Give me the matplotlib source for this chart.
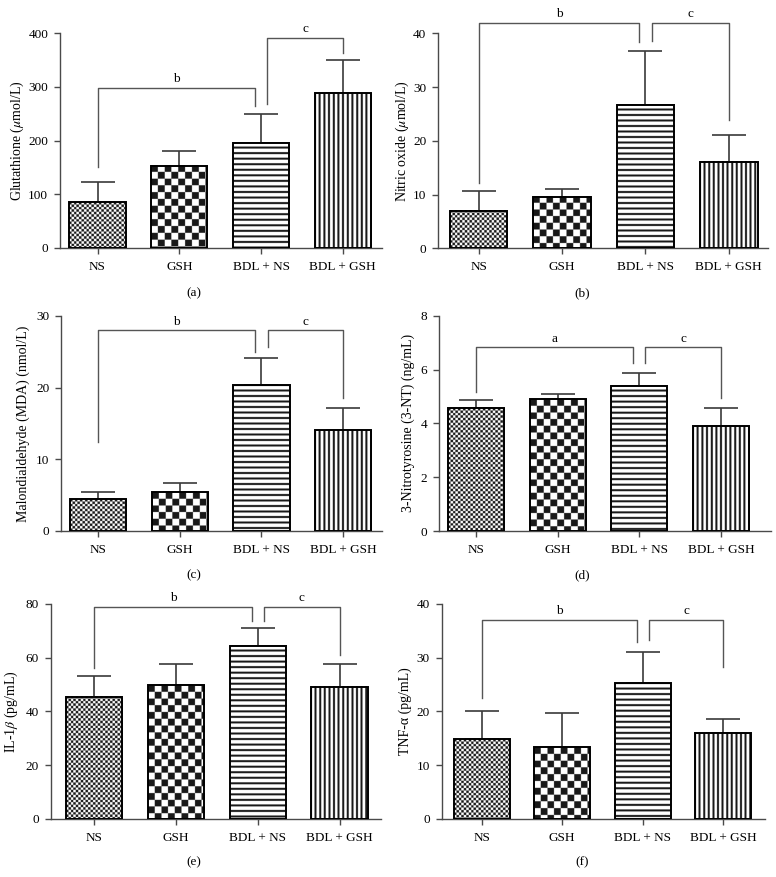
import numpy as np
import matplotlib
matplotlib.use("Agg")
import matplotlib.pyplot as plt

plt.rcParams['font.family'] = ['Liberation Serif', 'DejaVu Serif']
plt.rcParams['mathtext.fontset'] = 'stix'

# ---------------- data ----------------
groups = ['NS', 'GSH', 'BDL + NS', 'BDL + GSH']

gsh_mean = [85, 153, 196, 288]
gsh_err = [38, 27, 53, 62]
no_mean = [6.9, 9.6, 26.7, 16.1]
no_err = [3.8, 1.4, 10.1, 5.0]
mda_mean = [4.47, 5.4, 20.36, 14.07]
mda_err = [0.98, 1.2, 3.74, 3.03]
nt_mean = [4.56, 4.89, 5.39, 3.90]
nt_err = [0.31, 0.21, 0.48, 0.66]
il_mean = [45.5, 49.7, 64.5, 49.2]
il_err = [7.8, 7.8, 6.7, 8.3]
tnf_mean = [14.9, 13.3, 25.2, 15.9]
tnf_err = [5.1, 6.4, 5.85, 2.7]

ylabels = ['Glutathione ($\\mu$mol/L)', 'Nitric oxide ($\\mu$mol/L)',
           'Malondialdehyde (MDA) (nmol/L)', '3-Nitrotyrosine (3-NT) (ng/mL)',
           'IL-1$\\beta$ (pg/mL)', 'TNF-α (pg/mL)']
panel_tags = ['(a)', '(b)', '(c)', '(d)', '(e)', '(f)']
yticks = [[0, 100, 200, 300, 400], [0, 10, 20, 30, 40], [0, 10, 20, 30],
          [0, 2, 4, 6, 8], [0, 20, 40, 60, 80], [0, 10, 20, 30, 40]]

# significance brackets: (label, left-leg bottom, top, right-leg bottom)
brk_b = [('b', 151, 299, 264), ('b', 12.2, 42, 38.3), ('b', 12.4, 28.0, 24.9),
         ('a', 5.18, 6.82, 6.25), ('b', 56.2, 78.8, 73.8), ('b', 22.4, 37.0, 33.0)]
brk_c = [('c', 269, 392, 364), ('c', 38.6, 42, 23.9), ('c', 25.6, 28.0, 18.5),
         ('c', 6.25, 6.82, 4.93), ('c', 73.8, 78.8, 61.0), ('c', 33.2, 37.0, 28.2)]

means = [gsh_mean, no_mean, mda_mean, nt_mean, il_mean, tnf_mean]
errs = [gsh_err, no_err, mda_err, nt_err, il_err, tnf_err]

# ---------------- layout (pixels) ----------------
W, H = 776, 877
fig = plt.figure(figsize=(W / 100, H / 100), dpi=100)

boxes = [(60, 382, 33.3, 248), (438.3, 768, 33.3, 248.3),
         (61, 382, 316, 530.7), (439.3, 771, 315.7, 531),
         (50.7, 381, 604, 818.7), (441.7, 765, 604, 818.7)]
xlims = [(-0.459, 3.48), (-0.484, 3.47), (-0.453, 3.476),
         (-0.455, 3.615), (-0.529, 3.504), (-0.4975, 3.519)]
tag_pos = [(194, 293), (582, 293), (194, 575), (582, 575), (194, 862), (582, 862)]
label_pads = [1.5, 1.5, 4, 4, 4, 3]

DARK = 0.1
AX_COLOR = '#4a4a4a'
OS = 4  # oversampling of the fill textures


def texture(kind, w, h):
    yy, xx = np.mgrid[0:h * OS, 0:w * OS].astype(float)
    yy = (yy + 0.5) / OS
    xx = (xx + 0.5) / OS
    if kind == 0:   # fine checker
        c = 2.45
        m = ((np.floor(xx / c) + np.floor(yy / c)) % 2) == 0
    elif kind == 1:  # coarse checker
        c = 6.7
        m = ((np.floor(xx / c) + np.floor(yy / c)) % 2) == 0
    elif kind == 2:  # horizontal stripes
        m = ((yy + 1.0) % 5.5) < 2.1
    else:            # vertical stripes
        m = ((xx + 1.0) % 4.6) < 2.0
    return np.where(m, DARK, 1.0)


for k in range(6):
    l, r, t, b = boxes[k]
    ax = fig.add_axes([l / W, 1 - b / H, (r - l) / W, (b - t) / H])
    x = np.arange(len(groups))
    ymax = yticks[k][-1]
    ax.set_xlim(*xlims[k])
    ax.set_ylim(0, ymax)

    bars = ax.bar(x, means[k], width=0.69, facecolor='none', edgecolor='black',
                  linewidth=1.4, zorder=3)
    for i, p in enumerate(bars):
        bb = p.get_window_extent()
        wpx = max(int(round(bb.width)), 1)
        hpx = max(int(round(bb.height)), 1)
        img = texture(i, wpx, hpx)
        ax.imshow(img, cmap='gray', vmin=0, vmax=1, interpolation='antialiased',
                  extent=(p.get_x(), p.get_x() + p.get_width(), 0, p.get_height()),
                  aspect='auto', zorder=2)
    ax.set_xlim(*xlims[k])
    ax.set_ylim(0, ymax)

    ax.errorbar(x, means[k], yerr=[np.zeros(4), errs[k]], fmt='none',
                ecolor='#3a3a3a', elinewidth=1.2, capsize=12, capthick=1.2, zorder=1)

    # brackets
    d = 0.075
    lb, y1, ytop, y2 = brk_b[k]
    ax.plot([0, 0, 2 - d, 2 - d], [y1, ytop, ytop, y2], color='#555555', lw=1.0,
            clip_on=False, zorder=4)
    ax.annotate(lb, xy=(1 - d / 2, ytop), xytext=(0, 2), textcoords='offset points',
                ha='center', va='bottom', fontsize=9.5, annotation_clip=False)
    lc, y1, ytop, y2 = brk_c[k]
    ax.plot([2 + d, 2 + d, 3, 3], [y1, ytop, ytop, y2], color='#555555', lw=1.0,
            clip_on=False, zorder=4)
    ax.annotate(lc, xy=(2.5 + d / 2, ytop), xytext=(0, 2), textcoords='offset points',
                ha='center', va='bottom', fontsize=9.5, annotation_clip=False)

    for s in ['top', 'right']:
        ax.spines[s].set_visible(False)
    for s in ['left', 'bottom']:
        ax.spines[s].set_color(AX_COLOR)
        ax.spines[s].set_linewidth(1.0)
    ax.set_xticks(x)
    ax.set_xticklabels(groups, fontsize=9.5)
    ax.set_yticks(yticks[k])
    ax.tick_params(axis='both', color=AX_COLOR, length=4.5, width=1.0,
                   labelsize=9.5)
    ax.tick_params(axis='x', pad=5)
    ax.tick_params(axis='y', pad=4)
    ax.set_ylabel(ylabels[k], fontsize=10, labelpad=label_pads[k])
    fig.text(tag_pos[k][0] / W, 1 - tag_pos[k][1] / H, panel_tags[k],
             ha='center', va='center', fontsize=9.5)

fig.savefig('out.png', dpi=100)
